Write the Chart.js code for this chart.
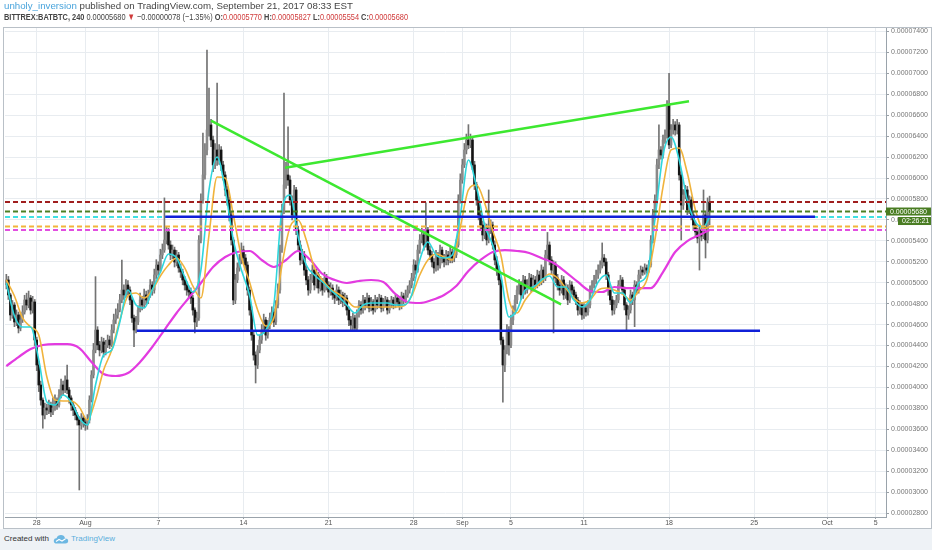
<!DOCTYPE html>
<html><head><meta charset="utf-8">
<script src="https://cdn.jsdelivr.net/npm/chart.js@4.4.0/dist/chart.umd.min.js"></script>
<style>
html,body{margin:0;padding:0;background:#fff;width:932px;height:550px;overflow:hidden;font-family:"Liberation Sans",Arial,sans-serif;}
#wrap{position:relative;width:932px;height:550px;}
#c{position:absolute;left:0;top:0;}
.hdr{position:absolute;left:4px;white-space:nowrap;transform-origin:0 50%;color:#444;font-size:9.5px;line-height:11px;z-index:3;}
#h1{top:0px;}
#h2{top:11px;}
.r{color:#d03a3a;}
#frame{position:absolute;left:3px;top:27px;width:929px;height:502px;border:1px solid #b9c0c7;box-sizing:border-box;pointer-events:none;z-index:2;}
#foot{position:absolute;left:0;top:529px;width:932px;height:21px;background:#eef2f6;z-index:2;}
#cw{position:absolute;left:4px;top:5px;font-size:8px;line-height:10px;color:#333;}
#logo{position:absolute;left:53px;top:5px;}
#tv{position:absolute;left:71px;top:5px;font-size:8px;line-height:10px;color:#5aaedc;}
</style></head>
<body><div id="wrap">
<canvas id="c" width="932" height="550"></canvas>
<div id="h1" class="hdr"><span style="color:#49a4dc">unholy_inversion</span> published on TradingView.com, September 21, 2017 08:33 EST</div>
<div id="h2" class="hdr"><b>BITTREX:BATBTC, 240</b> 0.00005680 <span class="r">&#9660;</span> &minus;0.00000078 (&minus;1.35%) <b>O:</b><span class="r">0.00005770</span> <b>H:</b><span class="r">0.00005827</span> <b>L:</b><span class="r">0.00005554</span> <b>C:</b><span class="r">0.00005680</span></div>
<div id="frame"></div>
<div id="foot"><span id="cw">Created with</span><svg id="logo" width="16" height="10" viewBox="0 0 16 10"><path d="M4 9.5 Q0.5 9.5 0.8 6.5 Q1.2 4 3.6 4.2 Q4.6 0.8 8.2 1 Q11.6 1.2 12 4.6 Q15.3 4.6 15.2 7.2 Q15 9.5 12.4 9.5 Z" fill="#6cb7e2"/><path d="M3 7.5 L6 5.5 L9 7 L12.5 4.8" stroke="#fff" stroke-width="1.1" fill="none"/></svg><span id="tv">TradingView</span></div>
</div>
<script>
// ---- data (prices in satoshi, 1e-8 BTC) ----
const startDay = 24.5;          // days since 2017-07-01 00:00 of first 4h candle
const candlesPerDay = 6;
const firstOpen = 4980;
const closes = [
5026,4883,4692,4787,4625,4692,4567,4644,4720,4835,
4787,4854,4739,4816,4453,4214,4023,3879,3736,3803,
3784,3832,3765,3803,3879,3832,3927,4023,3975,4071,
3975,3899,3832,3784,3736,3688,3641,3707,3669,3641,
3688,3879,4118,4357,4548,4405,4357,4434,4338,4405,
4453,4405,4548,4644,4692,4739,4835,4930,4883,4978,
4930,4835,4663,4548,4625,4739,4835,4787,4883,4835,
4883,4978,4930,5074,5169,5121,5265,5312,5408,5485,
5360,5265,5312,5198,5265,5141,5102,5026,4978,4930,
4911,4854,4739,4625,4663,5408,5790,6029,6268,6459,
6507,6363,6125,6268,6172,6268,6125,6029,5886,5790,
5647,5408,4835,5026,5141,5217,5312,5236,5169,4930,
4739,4500,4309,4214,4357,4453,4548,4644,4500,4596,
4663,4720,4625,4787,4930,5312,5695,5934,6029,5981,
5790,5647,5886,5504,5360,5217,5265,5121,5026,4930,
5026,5121,4978,5074,4949,5007,4930,5045,4978,4911,
4949,4883,4854,4930,4835,4883,4816,4854,4739,4644,
4596,4663,4567,4692,4787,4739,4835,4787,4854,4758,
4816,4739,4835,4787,4854,4758,4806,4835,4739,4787,
4835,4787,4854,4816,4777,4873,4835,4883,4930,4978,
5045,5169,5121,5312,5408,5456,5360,5504,5312,5265,
5198,5141,5265,5169,5312,5236,5198,5265,5217,5293,
5236,5265,5360,5790,5981,6125,6268,6363,6316,6363,
6125,5934,5790,5647,5551,5456,5523,5408,5504,5551,
5360,5217,5121,5026,4453,4214,4357,4548,4405,4644,
4739,4835,4930,4978,4883,5026,4930,4978,5045,4949,
5026,4978,5074,5007,5121,5045,5265,5360,5217,5121,
5169,5045,4978,4930,5026,4883,4949,4835,4978,4930,
4883,4835,4739,4787,4692,4758,4720,4787,4930,4978,
5026,5074,5121,5169,5236,5198,5074,4930,4835,4739,
4787,4835,4978,5026,4930,4787,4692,4739,4883,4835,
4978,4930,5074,5121,5102,5141,5121,5169,5408,5647,
5790,6125,6268,6220,6363,6411,6698,6316,6459,6507,
6459,6507,6029,5742,5838,5886,5695,5790,5647,5551,
5485,5427,5504,5446,5647,5408,5770,5680];
const highs = [
5080,5060,4900,4830,4810,4740,4720,4700,4780,4880,
4900,4920,4880,4870,4840,4480,4250,4060,3900,3850,
3840,3880,3860,3900,3930,3900,3980,4080,4060,4110,
4214,4000,3920,3860,3810,3760,3720,3750,3730,3700,
3740,3920,4160,4420,5058,4580,4440,4480,4470,4450,
4500,4490,4600,4700,4750,4800,4890,5217,4980,5030,
5020,4960,4860,4690,4680,4780,4900,4870,4940,4920,
4930,5030,5010,5130,5220,5200,5320,5370,5810,5530,
5520,5400,5360,5340,5310,5290,5180,5130,5060,5010,
4970,4950,4880,4760,4720,5450,5850,6430,6330,7223,
6860,6560,6400,6330,6908,6320,6300,6160,6060,5920,
5820,5680,5430,5080,5190,5270,5380,5350,5270,5200,
4960,4770,4540,4340,4400,4500,4600,4700,4670,4640,
4710,4770,4750,4830,4990,5360,5750,6812,6150,6488,
6020,5830,5930,5910,5540,5400,5320,5300,5160,5060,
5080,5170,5150,5130,5100,5060,5040,5100,5080,5010,
5000,4980,4920,4980,4960,4930,4910,4900,4880,4770,
4680,4710,4690,4740,4830,4820,4880,4860,4900,4880,
4860,4840,4880,4860,4890,4880,4850,4870,4860,4830,
4870,4860,4890,4880,4850,4910,4900,4930,4970,5020,
5090,5220,5210,5360,5460,5520,5480,5762,5530,5350,
5300,5230,5310,5290,5360,5340,5270,5310,5300,5340,
5320,5310,5410,5840,6040,6180,6330,6420,6510,6420,
6390,6160,5960,5820,5680,5590,5570,5560,5886,5600,
5580,5400,5250,5160,5050,4480,4400,4600,4580,4690,
4780,4880,4970,5030,5010,5070,5060,5030,5090,5080,
5070,5060,5120,5110,5170,5150,5310,5480,5390,5250,
5210,5200,5080,5010,5070,5060,4990,4980,5020,5010,
4960,4910,4860,4830,4810,4800,4790,4830,4970,5020,
5070,5120,5170,5210,5380,5270,5230,5100,4960,4870,
4830,4880,5020,5070,5050,4960,4810,4780,4930,4910,
5020,5010,5120,5160,5150,5180,5170,5210,5450,5700,
5840,6180,6507,6300,6410,6460,6740,7000,6510,6560,
6540,6560,6530,6060,5890,5930,5920,5830,5820,5680,
5590,5520,5550,5540,5886,5680,5810,5827];
const lows = [
4940,4840,4640,4660,4580,4590,4520,4540,4620,4700,
4740,4760,4700,4710,4400,4160,3960,3830,3610,3700,
3740,3750,3720,3740,3780,3790,3810,3900,3930,3950,
3940,3850,3780,3730,3690,3640,3020,3600,3620,3590,
3600,3660,3860,4090,4330,4360,4300,4330,4290,4310,
4380,4370,4390,4520,4610,4660,4720,4810,4840,4860,
4880,4790,4620,4390,4520,4600,4720,4740,4760,4790,
4800,4860,4880,4900,5040,5070,5100,5230,5290,5370,
5320,5220,5230,5150,5160,5100,5050,4980,4930,4880,
4860,4800,4690,4520,4580,4640,5380,5760,5990,6220,
6400,6300,6060,6090,6120,6130,6070,5980,5830,5740,
5590,5360,4790,4800,5000,5110,5180,5190,5120,4880,
4690,4450,4260,4042,4180,4330,4420,4520,4450,4470,
4560,4630,4580,4600,4760,4900,5290,5660,5900,5930,
5740,5600,5620,5460,5310,5170,5180,5070,4980,4880,
4900,5000,4930,4950,4900,4920,4880,4910,4930,4860,
4880,4840,4800,4830,4790,4800,4770,4780,4690,4590,
4545,4545,4540,4550,4670,4700,4710,4740,4760,4720,
4730,4700,4720,4750,4760,4720,4730,4770,4700,4710,
4760,4750,4760,4780,4740,4750,4800,4810,4860,4900,
4950,5020,5080,5100,5280,5380,5310,5340,5270,5220,
5150,5090,5110,5120,5140,5190,5150,5170,5170,5190,
5190,5200,5240,5340,5760,5950,6100,6230,6280,6290,
6080,5890,5740,5600,5500,5400,5420,5360,5380,5470,
5320,5170,5070,4980,4410,3860,4150,4320,4309,4380,
4600,4700,4800,4890,4840,4850,4890,4900,4940,4910,
4920,4940,4950,4970,4980,5000,5020,5230,5170,5080,
4520,5000,4930,4880,4900,4840,4850,4790,4810,4890,
4840,4790,4690,4700,4650,4660,4680,4690,4760,4900,
4950,4990,5040,5090,5140,5160,5030,4880,4790,4690,
4700,4760,4810,4950,4890,4740,4548,4650,4710,4790,
4580,4890,4900,5040,5070,5080,5090,5100,5150,5380,
5620,5760,6090,6180,6190,6330,6380,6280,6290,6420,
6410,6420,5980,5408,5700,5800,5650,5660,5600,5500,
5440,5380,5121,5400,5420,5236,5380,5554];
// moving averages (cyan/orange every 4 candles, magenta every 6)
const cyanLine = [4997,4682,4577,4577,4262,3860,3832,3927,3860,3707,
3641,4023,4309,4357,4625,4930,4787,4758,4930,5102,
5274,5236,5055,4911,5121,5886,6201,5886,5408,5121,
4883,4500,4548,4787,5695,5838,5437,5169,5074,5007,
4930,4864,4787,4711,4787,4806,4806,4806,4787,4787,
4883,5217,5389,5265,5236,5265,5647,6172,5914,5551,
5360,5074,4672,4739,4930,4959,5026,5064,4959,4959,
4835,4768,4835,5007,5074,4902,4902,4806,4997,5074,
5599,6220,6392,6172,5790,5580,5532,5628];
const orangeLine = [5026,4873,4663,4577,4500,4099,3879,3870,3870,3813,
3688,3879,4166,4357,4644,4873,4902,4854,4930,5064,
5169,5236,5141,4969,4854,5456,6010,6000,5647,5246,
5007,4739,4586,4663,5169,5532,5599,5408,5141,5026,
4940,4892,4835,4768,4768,4768,4768,4768,4768,4777,
4873,5074,5217,5274,5246,5217,5532,5886,5934,5762,
5494,5265,4835,4711,4835,4930,5007,5083,5045,4949,
4854,4806,4835,4930,4949,4930,4892,4835,4921,5026,
5408,5914,6268,6287,6048,5695,5513,5537];
const magentaLine = [4204,4290,4367,4405,4414,4414,4376,4243,4128,4109,
4137,4243,4386,4548,4711,4854,4997,5150,5246,5293,
5303,5217,5150,5217,5303,5217,5083,5026,4997,5016,
5026,5007,4892,4816,4806,4835,4883,4969,5112,5217,
5293,5312,5303,5284,5236,5188,5102,5007,4921,4911,
4959,4949,4949,4949,5102,5293,5398,5456,5504];
// drawings: [day, price]
const trendDown = [[41.33, 6548], [70.12, 4794]];
const trendUp = [[47.42, 6099], [80.64, 6733]];
const resistance = [[37.57, 5630], [91.0, 5630]];
const support = [[35.22, 4540], [86.48, 4540]];
const levelValues = [5770, 5680, 5628, 5537, 5504];
const yTickValues = [2800,3000,3200,3400,3600,3800,4000,4200,4400,4600,4800,5000,5200,5400,5600,5800,6000,6200,6400,6600,6800,7000,7200,7400];
const xTickDays = [27, 31, 37, 44, 51, 58, 62, 66, 72, 79, 86, 92, 96];
const xTickLabels = ['28','Aug','7','14','21','28','Sep','5','11','18','25','Oct','5'];
const countdown = '02:26:21';

// ---- styles ----
const levelColors = ['#a01e1e', '#4d7f24', '#3fe0e4', '#f2b43a', '#e24ee0'];
const X_MIN = 24.39, X_MAX = 96.84, Y_MIN = 2762, Y_MAX = 7433;
const FONT = "'Liberation Sans', Arial, sans-serif";

const T = i => startDay + i / candlesPerDay;
const opens = closes.map((c, i) => i === 0 ? firstOpen : closes[i - 1]);
const sampled = (vals, step) => vals.map((v, k) => ({x: T(Math.min(k * step, closes.length - 1)), y: v}));
const seg = pts => pts.map(p => ({x: p[0], y: p[1]}));

const datasets = [];
datasets.push({type:'line', data: seg(trendDown), borderColor:'#3de830', borderWidth:2.5, pointRadius:0, order:1});
datasets.push({type:'line', data: seg(trendUp), borderColor:'#3de830', borderWidth:2.5, pointRadius:0, order:1});
datasets.push({type:'line', data: seg(resistance), borderColor:'#1020d8', borderWidth:2.5, pointRadius:0, order:2});
datasets.push({type:'line', data: seg(support), borderColor:'#1020d8', borderWidth:2.5, pointRadius:0, order:2});
levelValues.forEach((v, k) => datasets.push({type:'line', data:[{x:X_MIN,y:v},{x:X_MAX,y:v}], borderColor: levelColors[k], borderWidth:2, borderDash:[5,3], pointRadius:0, order:3}));
datasets.push({type:'line', data: sampled(cyanLine, 4), borderColor:'#2fd6dc', borderWidth:1.6, pointRadius:0, cubicInterpolationMode:'monotone', order:4});
datasets.push({type:'line', data: sampled(orangeLine, 4), borderColor:'#f0b33c', borderWidth:1.6, pointRadius:0, cubicInterpolationMode:'monotone', order:5});
datasets.push({type:'line', data: sampled(magentaLine, 6), borderColor:'#e33be0', borderWidth:2.2, pointRadius:0, cubicInterpolationMode:'monotone', order:6});
datasets.push({type:'bar', data: closes.map((c, i) => ({x: T(i), y: [opens[i], c]})), backgroundColor: closes.map((c, i) => c < opens[i] ? '#141414' : '#8a8a8a'), barThickness:1.9, grouped:false, order:8});
datasets.push({type:'bar', data: closes.map((c, i) => ({x: T(i), y: [lows[i], highs[i]]})), backgroundColor:'#737373', barThickness:1, grouped:false, order:9});

const labelPlugin = {
  id:'lastLabel',
  afterDraw(chart){
    const ctx = chart.ctx, ys = chart.scales.y;
    const last = closes[closes.length - 1];
    const yc = ys.getPixelForValue(last);
    ctx.save();
    ctx.fillStyle = '#4a7d23';
    ctx.fillRect(886, yc - 4, 46, 8);
    ctx.fillStyle = '#fff';
    ctx.font = '7px ' + FONT;
    ctx.textBaseline = 'middle';
    ctx.textAlign = 'left';
    ctx.fillText((last / 1e8).toFixed(8), 890, yc + 0.5);
    ctx.fillStyle = '#4a7d23';
    ctx.fillRect(898, yc + 5.5, 34, 8);
    ctx.fillStyle = '#fff';
    ctx.fillText(countdown, 902, yc + 9.8);
    ctx.restore();
  }
};

Chart.defaults.font.family = FONT;
new Chart(document.getElementById('c'), {
  type:'bar',
  data:{datasets},
  options:{
    responsive:false, animation:false, devicePixelRatio:1,
    layout:{padding:{left:5, top:28, right:0, bottom:22}},
    plugins:{legend:{display:false}, tooltip:{enabled:false}},
    scales:{
      x:{type:'linear', min:X_MIN, max:X_MAX, offset:false,
        afterFit(s){ s.height = 11; },
        afterBuildTicks(s){ s.ticks = xTickDays.map(v => ({value:v})); },
        ticks:{autoSkip:false, maxRotation:0, padding:0, color:'#555', font:{size:7},
          callback:(v, i) => xTickLabels[i]},
        grid:{offset:false, color:'#e8ecf0', tickLength:2, tickColor:'#9aa0a6'},
        border:{color:'#9aa3ab'}},
      y:{position:'right', min:Y_MIN, max:Y_MAX,
        afterFit(s){ s.width = 46; },
        afterBuildTicks(s){ s.ticks = yTickValues.map(v => ({value:v})); },
        ticks:{padding:2, color:'#777', font:{size:7}, callback:v => (v / 1e8).toFixed(8)},
        grid:{color:'#e8ecf0', tickLength:3, tickColor:'#9aa0a6'},
        border:{color:'#9aa3ab'}}
    }
  },
  plugins:[labelPlugin]
});

// fit header lines to the reference widths
[['h1', 349], ['h2', 404]].forEach(([id, w]) => {
  const el = document.getElementById(id);
  const nat = el.getBoundingClientRect().width;
  el.style.transform = 'scaleX(' + (w / nat) + ')';
});
</script>
</body></html>
